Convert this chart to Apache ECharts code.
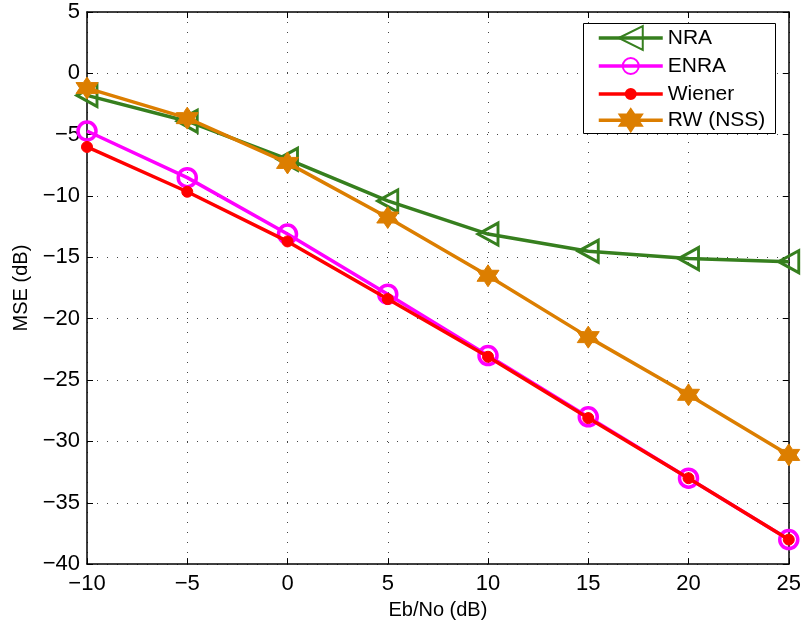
<!DOCTYPE html>
<html>
<head>
<meta charset="utf-8">
<script src="https://cdn.jsdelivr.net/npm/echarts@6/dist/echarts.min.js"></script>
<style>
html,body{margin:0;padding:0;background:#fff;}
#main{width:804px;height:625px;}
</style>
</head>
<body>
<div id="main"></div>
<script>
// Eb/No values (dB)
var ebno = [-10, -5, 0, 5, 10, 15, 20, 25];
// MSE (dB) for each method
var nra = [-1.8, -3.9, -7.0, -10.4, -13.1, -14.5, -15.1, -15.35];
var enra = [-4.7, -8.5, -13.1, -18.0, -23.0, -28.0, -33.0, -38.0];
var wiener = [-6.0, -9.65, -13.7, -18.4, -23.1, -28.1, -33.0, -38.0];
var rwnss = [-1.2, -3.65, -7.3, -11.75, -16.5, -21.5, -26.2, -31.1];
var names = ['NRA', 'ENRA', 'Wiener', 'RW (NSS)'];

var starPath = 'path://M0,-10 L2.89,-5 L8.66,-5 L5.77,0 L8.66,5 L2.89,5 L0,10 L-2.89,5 L-8.66,5 L-5.77,0 L-8.66,-5 L-2.89,-5 Z';

function pairs(ys) {
	return ebno.map(function (x, i) { return [x, ys[i]]; });
}

var font = 'Liberation Sans, Arial, sans-serif';
var minus = function (v) { return String(v).replace('-', '\u2212'); };

var axisLine = {show: true, onZero: false, lineStyle: {color: '#000', width: 1.5}};
var tick = {inside: true, length: 6, lineStyle: {color: '#000'}};
var dotted = {show: true, lineStyle: {color: '#444', width: 1, type: [1, 9]}};

// one legend per entry so each marker keeps its own size
var legendH = [30, 20, 12.5, 28];
var legendTop = [25, 55.5, 83.5, 108];
var legends = names.map(function (n, i) {
	return {
		orient: 'vertical', left: 597, top: legendTop[i], padding: 0,
		itemWidth: 64, itemHeight: legendH[i],
		lineStyle: {width: 3.5},
		textStyle: {fontFamily: font, fontSize: 21, color: '#000'},
		data: [n]
	};
});

var chart = echarts.init(document.getElementById('main'));

var option = {
	animation: false,
	backgroundColor: '#fff',
	grid: {left: 87, right: 14, top: 12, bottom: 58},
	legend: legends,
	graphic: [{
		type: 'rect', left: 583, top: 23, z: 3,
		shape: {width: 192, height: 110},
		style: {fill: '#fff', stroke: '#000', lineWidth: 1}
	}],
	xAxis: [{
		type: 'value', min: -10, max: 25, interval: 5,
		name: 'Eb/No (dB)', nameLocation: 'middle', nameGap: 34,
		nameTextStyle: {fontFamily: font, fontSize: 20, color: '#000'},
		axisLine: axisLine, axisTick: tick,
		axisLabel: {fontFamily: font, fontSize: 22, color: '#000', margin: 9, formatter: minus},
		splitLine: dotted
	}, {
		type: 'value', min: -10, max: 25, interval: 5, position: 'top',
		axisLine: axisLine, axisTick: tick,
		axisLabel: {show: false}, splitLine: {show: false}
	}],
	yAxis: [{
		type: 'value', min: -40, max: 5, interval: 5,
		name: 'MSE (dB)', nameLocation: 'middle', nameGap: 54, nameRotate: 90,
		nameTextStyle: {fontFamily: font, fontSize: 20, color: '#000'},
		axisLine: axisLine, axisTick: tick,
		axisLabel: {fontFamily: font, fontSize: 22, color: '#000', margin: 7, formatter: minus},
		splitLine: dotted
	}, {
		type: 'value', min: -40, max: 5, interval: 5, position: 'right',
		axisLine: axisLine, axisTick: tick,
		axisLabel: {show: false}, splitLine: {show: false}
	}],
	series: [{
		name: 'NRA', type: 'line', data: pairs(nra),
		symbol: 'triangle', symbolRotate: 90, symbolSize: [22, 20],
		lineStyle: {color: '#367F1E', width: 3.5},
		itemStyle: {color: 'rgba(255,255,255,0)', borderColor: '#367F1E', borderWidth: 3},
		z: 2
	}, {
		name: 'ENRA', type: 'line', data: pairs(enra),
		symbol: 'circle', symbolSize: 18,
		lineStyle: {color: '#FF00FF', width: 3.5},
		itemStyle: {color: 'rgba(255,255,255,0)', borderColor: '#FF00FF', borderWidth: 3.5},
		z: 3
	}, {
		name: 'Wiener', type: 'line', data: pairs(wiener),
		symbol: 'circle', symbolSize: 11,
		lineStyle: {color: '#FF0000', width: 3.5},
		itemStyle: {color: '#FF0000', borderColor: '#FF0000', borderWidth: 1},
		z: 4
	}, {
		name: 'RW (NSS)', type: 'line', data: pairs(rwnss),
		symbol: starPath, symbolSize: 22,
		lineStyle: {color: '#DC7E00', width: 3.5},
		itemStyle: {color: '#DC7E00', borderColor: '#DC7E00', borderWidth: 1},
		z: 5
	}]
};

chart.setOption(option);
</script>
</body>
</html>
